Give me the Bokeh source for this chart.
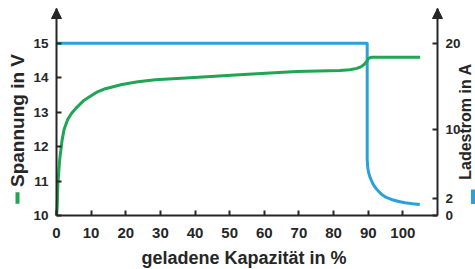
from bokeh.plotting import figure
from bokeh.models import Range1d, LinearAxis, FixedTicker, Label, Arrow, NormalHead
from bokeh.embed import file_html
from bokeh.resources import INLINE
import math

# ---- data ----
x_ticks = [0, 10, 20, 30, 40, 50, 60, 70, 80, 90, 100]
volt_ticks = [10, 11, 12, 13, 14, 15]
amp_ticks = [0, 2, 10, 20]

# charge voltage (V) vs charged capacity (%)
cap_volt = [0, 0.2, 0.4, 0.9, 1.6, 2.2, 3.2, 4.3, 5.5, 7.9, 9.3, 11.5, 14.1, 18.9,
            23.5, 28.5, 38.6, 54, 69.4, 81.8, 84.7, 86.7, 88.0, 89.0, 89.6, 90.0,
            90.5, 91.0, 105]
volt = [10.0, 10.24, 10.92, 11.6, 12.18, 12.5, 12.78, 12.96, 13.1, 13.34, 13.43,
        13.57, 13.68, 13.8, 13.88, 13.94, 14.0, 14.09, 14.18, 14.21, 14.23, 14.27,
        14.32, 14.40, 14.48, 14.55, 14.58, 14.59, 14.59]

# charge current (A) vs charged capacity (%)
cap_amp = [0, 89.7, 89.7, 89.85, 90.1, 90.5, 91.2, 91.9, 93.0, 93.9, 95.2, 96.7,
           98.5, 100.6, 102.8, 104.9]
amp = [20, 20, 6.5, 5.6, 5.0, 4.45, 3.8, 3.3, 2.8, 2.45, 2.1, 1.86, 1.65, 1.47,
       1.36, 1.28]

x_title = "geladene Kapazität in %"
left_title = "Spannung in V"
right_title = "Ladestrom in A"

GREEN = "#1fa553"
BLUE = "#2aa1db"
INK = "#262626"
FONT = "Liberation Sans"

W, H = 475, 269
# plot geometry (pixels): axis origin and scale
X0_PX, Y0_PX = 56, 215          # where x=0 / y=10 V (0 A) lie
PX_X = 381 / 110                 # px per % capacity
PX_V = 172.3 / 5                 # px per volt
PX_A = 172.3 / 20                # px per ampere
TIP_PX = 8                       # arrow tip of the vertical axes

x_rng = Range1d(-X0_PX / PX_X, (W - X0_PX) / PX_X)
v_rng = Range1d(10 - (H - Y0_PX) / PX_V, 10 + Y0_PX / PX_V)
a_rng = Range1d(-(H - Y0_PX) / PX_A, Y0_PX / PX_A)
V_TIP = 10 + (Y0_PX - TIP_PX) / PX_V
A_TIP = (Y0_PX - TIP_PX) / PX_A

p = figure(width=W, height=H, output_backend="svg", toolbar_location=None,
           x_range=x_rng, y_range=v_rng, min_border=0,
           min_border_left=0, min_border_right=0, min_border_top=0,
           min_border_bottom=0)
p.title.visible = False
p.extra_y_ranges = {"amp": a_rng}
p.outline_line_color = None
p.xgrid.visible = False
p.ygrid.visible = False
p.background_fill_color = "white"
p.border_fill_color = "white"

def style(ax, size, standoff):
    ax.axis_line_color = INK
    ax.axis_line_width = 2
    ax.major_tick_line_color = INK
    ax.major_tick_line_width = 2
    ax.major_tick_in = 5
    ax.major_tick_out = 0
    ax.minor_tick_line_color = None
    ax.major_label_text_font = FONT
    ax.major_label_text_font_style = "bold"
    ax.major_label_text_font_size = size
    ax.major_label_text_color = INK
    ax.major_label_standoff = standoff

xa = p.xaxis[0]
xa.ticker = FixedTicker(ticks=x_ticks)
style(xa, "15px", 12)
xa.fixed_location = 10
xa.bounds = (0, 110)

ya = p.yaxis[0]
ya.ticker = FixedTicker(ticks=volt_ticks)
style(ya, "13.5px", 8)
ya.fixed_location = 0
ya.bounds = (10, V_TIP)

ra = LinearAxis(y_range_name="amp", ticker=FixedTicker(ticks=amp_ticks))
style(ra, "13.5px", 8)
ra.fixed_location = 110
ra.bounds = (0, A_TIP)
p.add_layout(ra, "right")

p.line(cap_amp, amp, y_range_name="amp", line_color=BLUE, line_width=3,
       line_join="round")
p.line(cap_volt, volt, line_color=GREEN, line_width=3, line_join="round")

# axis arrow heads
for xv in (0, 110):
    p.add_layout(Arrow(end=NormalHead(size=10, fill_color=INK, line_color=INK, line_width=1),
                       x_start=xv, y_start=V_TIP - 0.3, x_end=xv, y_end=V_TIP,
                       line_color=INK, line_width=2))

def title(text, x, y, size, angle=0.0):
    p.add_layout(Label(x=x, y=y, x_units="screen", y_units="screen", text=text,
                       angle=angle, text_font=FONT, text_font_style="bold",
                       text_font_size=size, text_color=INK, text_align="center",
                       text_baseline="middle"))

# titles, anchored at the centre of their text box
# (screen units, measured from the bottom-left corner)
title(x_title, 243.5, H - 257.8, "18px")
title(left_title, 17.4, H - 120, "19px", math.pi / 2)
title(right_title, 465.3, H - 121, "16px", math.pi / 2)

# coloured legend dashes beside the axis titles
p.add_layout(Arrow(end=None, x_start=17, y_start=H - 203.3, x_end=17, y_end=H - 191.7,
                   start_units="screen", end_units="screen",
                   line_color=GREEN, line_width=4))
p.add_layout(Arrow(end=None, x_start=472.5, y_start=H - 203.5, x_end=472.5, y_end=H - 189,
                   start_units="screen", end_units="screen",
                   line_color=BLUE, line_width=4))

open("out.html", "w").write(file_html(p, INLINE))
